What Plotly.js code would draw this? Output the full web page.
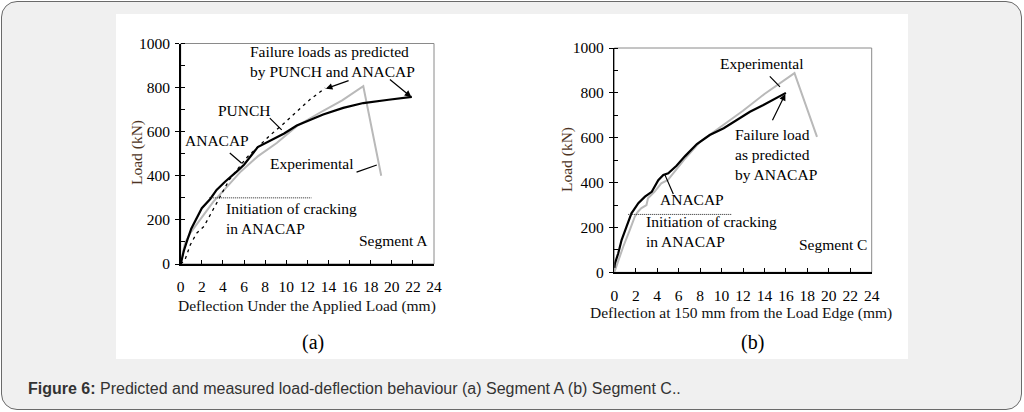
<!DOCTYPE html>
<html>
<head>
<meta charset="utf-8">
<script src="https://cdn.plot.ly/plotly-3.0.1.min.js"></script>
<style>
  html, body { margin:0; padding:0; background:#fff; }
  #frame { position:absolute; left:1px; top:1px; width:1019px; height:407px; border:1px solid #6a6a6a; border-radius:16px; background:#f0f0f0; }
  #panel { position:absolute; left:116px; top:14px; width:792px; height:345px; background:#fff; }
  #chart { position:absolute; left:0; top:0; width:1024px; height:412px; }
  #caption { position:absolute; left:28px; top:380px; font-family:"Liberation Sans", Arial, sans-serif; font-size:16px; color:#333; white-space:nowrap; }
</style>
</head>
<body>
<div id="frame"></div>
<div id="panel"></div>
<div id="chart"></div>
<div id="caption"><b>Figure 6:</b> Predicted and measured load-deflection behaviour (a) Segment A (b) Segment C..</div>
<script>
// Segment A
const aAnacapX = [0, 0.3, 0.6, 1.0, 2.0, 2.8, 3.4, 4.2, 5.3, 6.0, 7.3, 7.9, 8.6, 9.8, 11.0, 12.3, 13.5, 15.4, 17.3, 19.7, 21.9];
const aAnacapY = [0, 60, 105, 160, 253, 295, 336, 373, 419, 450, 530, 545, 560, 592, 628, 655, 678, 708, 730, 745, 758];
const aPunchX = [0, 0.4, 0.9, 1.5, 2.2, 2.8, 3.4, 4.6, 6.2, 8.5, 9.6, 11.0, 12.3, 13.7];
const aPunchY = [0, 18, 86, 139, 170, 223, 283, 382, 480, 585, 630, 690, 748, 798];
const aExpX = [0, 0.4, 0.9, 1.85, 3.1, 4.4, 5.7, 7.3, 9.1, 11.0, 12.3, 13.5, 15.3, 17.3, 19.0];
const aExpY = [0, 94, 140, 200, 283, 351, 420, 488, 549, 625, 662, 695, 742, 806, 400];
const aCrackX = [2.7, 12.4];
const aCrackY = [300, 300];
// Segment C
const cAnacapX = [0, 0.06, 0.37, 0.68, 1.14, 1.6, 2.24, 2.86, 3.49, 3.79, 4.1, 4.57, 5.03, 5.8, 6.6, 7.7, 8.9, 10.2, 11.4, 12.65, 13.9, 15.1, 16.0];
const cAnacapY = [20, 40, 85, 144, 204, 263, 308, 337, 359, 382, 411, 434, 441, 475, 518, 572, 612, 642, 679, 716, 746, 776, 800];
const cExpX = [0, 0.37, 0.83, 1.45, 1.91, 2.2, 2.53, 3.0, 3.14, 3.76, 4.38, 5.0, 5.6, 6.5, 8.0, 10.0, 12.0, 14.0, 15.5, 16.8, 18.9];
const cExpY = [0, 55, 114, 189, 248, 270, 286, 300, 330, 360, 397, 412, 449, 501, 582, 650, 720, 795, 845, 888, 604];
const cCrackX = [1.3, 10.9];
const cCrackY = [258, 258];
const xTicks = [0, 2, 4, 6, 8, 10, 12, 14, 16, 18, 20, 22, 24];
const yTicks = [0, 200, 400, 600, 800, 1000];

const serif = 'Liberation Serif, Times New Roman, serif';
const grey = '#b9b9b9';
const fs = 15.5;

const traces = [
  { x:aExpX, y:aExpY, mode:'lines', line:{color:grey, width:2}, xaxis:'x', yaxis:'y' },
  { x:aPunchX, y:aPunchY, mode:'lines', line:{color:'#000', width:1.3, dash:'3px,4px'}, xaxis:'x', yaxis:'y' },
  { x:aAnacapX, y:aAnacapY, mode:'lines', line:{color:'#000', width:2.2}, xaxis:'x', yaxis:'y' },
  { x:aCrackX, y:aCrackY, mode:'lines', line:{color:'#222', width:1, dash:'1px,1px'}, xaxis:'x', yaxis:'y' },
  { x:cExpX, y:cExpY, mode:'lines', line:{color:grey, width:2}, xaxis:'x2', yaxis:'y2' },
  { x:cAnacapX, y:cAnacapY, mode:'lines', line:{color:'#000', width:2.2}, xaxis:'x2', yaxis:'y2' },
  { x:cCrackX, y:cCrackY, mode:'lines', line:{color:'#222', width:1, dash:'1px,1px'}, xaxis:'x2', yaxis:'y2' }
];

function xax(dom){ return { domain:dom, range:[0,24], tickvals:xTicks, ticks:'inside', ticklen:4, tickcolor:'#000',
  showline:true, linecolor:'#000', linewidth:1.8, showgrid:false, zeroline:false, fixedrange:true,
  tickfont:{family:serif, size:fs, color:'#000'}, ticklabelstandoff:8 }; }
function yax(dom){ return { domain:dom, range:[0,1000], tickvals:yTicks, ticks:'outside', ticklen:4, tickcolor:'#000',
  minor:{dtick:100, ticks:'inside', ticklen:4, tickcolor:'#000'},
  showline:true, linecolor:'#000', linewidth:1.5, showgrid:false, zeroline:false, fixedrange:true,
  tickfont:{family:serif, size:fs, color:'#000'}, ticklabelstandoff:2 }; }

const tf = {family:serif, size:fs, color:'#000'};
function lbl(xr, yr, x, y, text, xa){ return { xref:xr, yref:yr, x:x, y:y, text:text, showarrow:false, font:tf, xanchor:xa||'center', yanchor:'middle', align:'left' }; }
function ptr(xr, yr, x0, y0, x1, y1, head){ return { xref:xr, yref:yr, axref:xr, ayref:yr, x:x1, y:y1, ax:x0, ay:y0, text:'', showarrow:true,
  arrowhead:head?2:0, arrowsize:1.1, arrowwidth:1.2, arrowcolor:'#000', standoff:0, startstandoff:0 }; }
function ptxt(px, py, text, size, color, angle){ return { xref:'paper', yref:'paper', x:px/1024, y:(412-py)/412, text:text, showarrow:false,
  xanchor:'center', yanchor:'middle', textangle:angle||0, font:{family:serif, size:size, color:color} }; }

const annotations = [
  lbl('x','y', 6.38, 920, 'Failure loads as predicted<br>by PUNCH and ANACAP', 'left'),
  ptr('x','y', 16.05, 834, 13.75, 795, true),
  ptr('x','y', 19.68, 842, 21.85, 757, true),
  lbl('x','y', 6.09, 698, 'PUNCH'),
  ptr('x','y', 8.3, 668, 9.57, 608, false),
  lbl('x','y', 3.44, 562, 'ANACAP'),
  ptr('x','y', 4.51, 509, 5.78, 457, false),
  lbl('x','y', 8.27, 454, 'Experimental', 'left'),
  ptr('x','y', 16.52, 414, 18.58, 449, false),
  lbl('x','y', 4.1, 206, 'Initiation of cracking<br>in ANACAP', 'left'),
  lbl('x','y', 16.68, 106, 'Segment A', 'left'),

  lbl('x2','y2', 9.67, 932, 'Experimental', 'left'),
  ptr('x2','y2', 14.36, 880, 15.45, 827, false),
  lbl('x2','y2', 11.04, 526, 'Failure load<br>as predicted<br>by ANACAP', 'left'),
  ptr('x2','y2', 14.68, 671, 15.95, 795, true),
  lbl('x2','y2', 7.24, 325, 'ANACAP'),
  ptr('x2','y2', 4.66, 441, 5.5, 349, false),
  lbl('x2','y2', 2.8, 181, 'Initiation of cracking<br>in ANACAP', 'left'),
  lbl('x2','y2', 17.0, 122, 'Segment C', 'left'),

  ptxt(137, 153, 'Load (kN)', fs, '#4e3424', -90),
  ptxt(567, 160, 'Load (kN)', fs, '#4e3424', -90),
  ptxt(307, 306, 'Deflection Under the Applied Load (mm)', fs, '#111'),
  ptxt(741, 313, 'Deflection at 150 mm from the Load Edge (mm)', fs, '#111'),
  ptxt(313, 342, '(a)', 20, '#000'),
  ptxt(752, 342, '(b)', 20, '#000')
];

const box = (xr, yr) => ({ type:'rect', xref:xr+' domain', yref:yr+' domain', x0:0, x1:1, y0:0, y1:1, line:{color:'#8a8a8a', width:1}, layer:'below' });

const layout = {
  width:1024, height:412, margin:{l:0, r:0, t:0, b:0},
  paper_bgcolor:'rgba(0,0,0,0)', plot_bgcolor:'rgba(0,0,0,0)',
  showlegend:false,
  xaxis: Object.assign(xax([180.7/1024, 434/1024]), {anchor:'y'}),
  yaxis: Object.assign(yax([(412-264)/412, (412-43.5)/412]), {anchor:'x'}),
  xaxis2: Object.assign(xax([614.3/1024, 871.7/1024]), {anchor:'y2'}),
  yaxis2: Object.assign(yax([(412-272.3)/412, (412-48)/412]), {anchor:'x2'}),
  shapes:[box('x','y'), box('x2','y2')],
  annotations: annotations
};

Plotly.newPlot('chart', traces, layout, {staticPlot:true, displayModeBar:false});
</script>
</body>
</html>
